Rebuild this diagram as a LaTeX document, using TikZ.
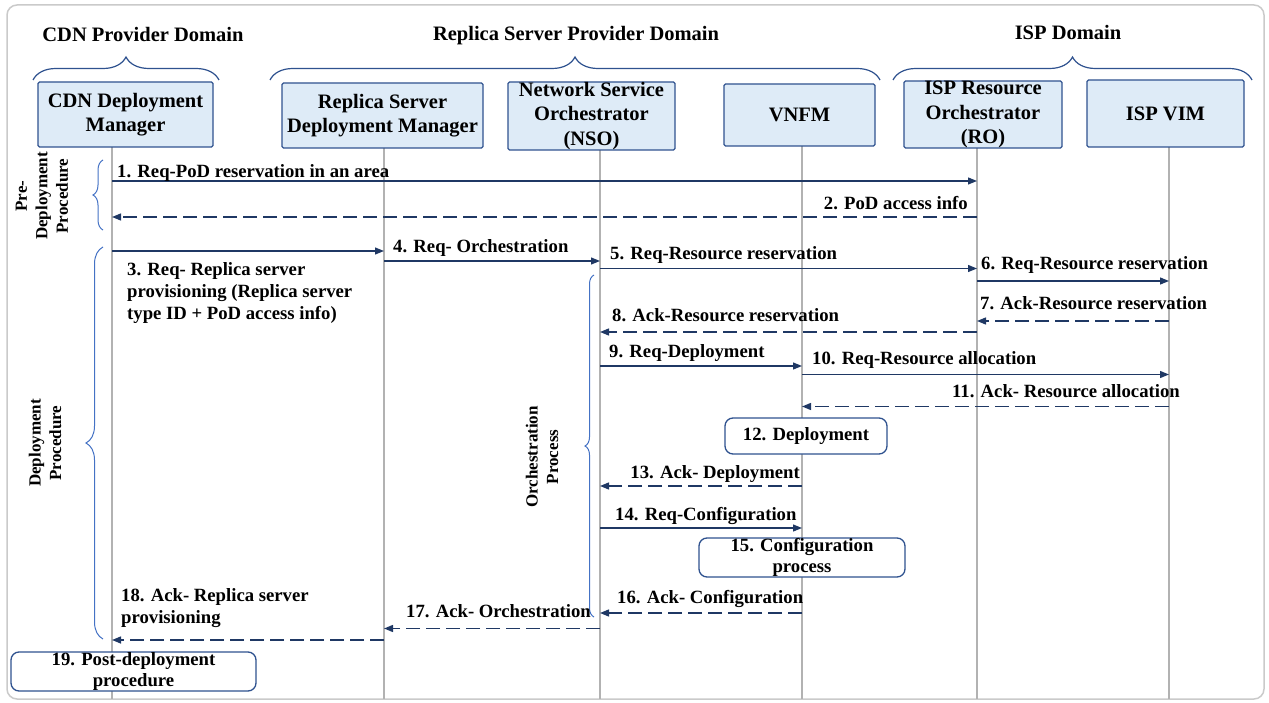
\documentclass[tikz,border=0pt]{standalone}
\usepackage{fontspec}
\setmainfont{Liberation Serif}
\usetikzlibrary{arrows.meta,decorations.pathreplacing}

\definecolor{navy}{HTML}{1F3864}
\definecolor{boxline}{HTML}{2F528F}
\definecolor{boxfill}{HTML}{DEEBF7}
\definecolor{lifegray}{HTML}{B2B2B2}
\definecolor{bracecol}{HTML}{4472C4}
\definecolor{framegray}{HTML}{CACACA}

\begin{document}
\begin{tikzpicture}[x=1pt,y=-1pt,
  header/.style={inner sep=0pt, font=\fontsize{20.5}{24.5}\selectfont\bfseries},
  actor/.style={draw=boxline, fill=boxfill, line width=1.3pt, rounded corners=1.5pt,
    inner sep=0pt, align=center, font=\fontsize{20.5}{24.5}\selectfont\bfseries},
  procbox/.style={draw=boxline, fill=white, line width=1.3pt, rounded corners=8pt,
    inner sep=0pt, align=center, font=\fontsize{18.7}{20.5}\selectfont\bfseries},
  msg/.style={inner sep=0pt, font=\fontsize{18.7}{21.7}\selectfont\bfseries},
  sidelabel/.style={inner sep=0pt, align=center, rotate=90,
    font=\fontsize{17}{20.5}\selectfont\bfseries},
  req/.style={draw=navy, line width=1.2pt, -{Triangle[length=9pt,width=7pt]}},
  ack/.style={req, line width=1.4pt, dash pattern=on 14pt off 6pt},
  life/.style={draw=lifegray, line width=1.6pt},
  topbrace/.style={draw=boxline, line width=1.2pt, decorate,
    decoration={brace, amplitude=23pt}},
  sidebrace/.style={draw=bracecol, line width=1pt, decorate,
    decoration={brace, amplitude=#1}}
]
\useasboundingbox (0,0) rectangle (1269,703);

% outer frame
\draw[framegray, line width=1.5pt, rounded corners=10pt] (7,5) rectangle (1264,699);

% domain headers and their braces
\node[header, anchor=base] (hcdn) at (143,42) {CDN Provider Domain};
\node[header, anchor=base] (hrsp) at (576,41) {Replica Server Provider Domain};
\node[header, anchor=base] (hisp) at (1068,40) {ISP Domain};
\draw[topbrace] (33,80) -- (219,80);
\draw[topbrace] (270,80) -- (880,80);
\draw[topbrace] (893,80) -- (1252,80);

% lifeline anchors
\coordinate (Lcdn) at (112,147);
\coordinate (Lrsdm) at (384,148);
\coordinate (Lnso) at (600,150);
\coordinate (Lvnfm) at (802,146);
\coordinate (Lro) at (977,147);
\coordinate (Lvim) at (1169,147);
\foreach \l in {Lcdn,Lrsdm,Lnso,Lvnfm,Lro,Lvim}
  \draw[life] (\l) -- (\l |- 0,699);

% participants
\node[actor, minimum width=175pt, minimum height=65pt] (cdn) at (125.5,114.5) {CDN Deployment\\Manager};
\node[actor, minimum width=201pt, minimum height=65pt] (rsdm) at (382.5,115.5) {Replica Server\\Deployment Manager};
\node[actor, minimum width=167pt, minimum height=68pt] (nso) at (591.5,116) {Network Service\\Orchestrator\\(NSO)};
\node[actor, minimum width=151pt, minimum height=62pt] (vnfm) at (799.5,115) {VNFM};
\node[actor, minimum width=158pt, minimum height=65pt] (ro) at (983,114.5) {ISP Resource\\Orchestrator\\(RO)};
\node[actor, minimum width=157pt, minimum height=67pt] (vim) at (1165.5,113.5) {ISP VIM};

% phase braces and labels
\draw[sidebrace=10pt] (103,230) -- (103,160);
\draw[sidebrace=17pt] (103,639) -- (103,247);
\draw[sidebrace=9pt] (594,617) -- (594,275);
\node[sidelabel] (lpre) at (42,196) {Pre-\\Deployment\\Procedure};
\node[sidelabel] (ldep) at (45,443) {Deployment\\Procedure};
\node[sidelabel] (lorc) at (542,457) {Orchestration\\Process};

% messages
\draw[req] (Lcdn |- 0,181) -- (Lro |- 0,181);
\node[msg, anchor=base west] (t1) at (117,178) {1. Req-PoD reservation in an area};

\draw[ack] (Lro |- 0,217) -- (Lcdn |- 0,217);
\node[msg, anchor=base east] (t2) at (968,210) {2. PoD access info};

\draw[req] (Lcdn |- 0,251) -- (Lrsdm |- 0,251);
\node[msg, anchor=north west, align=left] (t3) at (127,262.5) {3. Req- Replica server\\provisioning (Replica server\\type ID + PoD access info)};

\draw[req] (Lrsdm |- 0,261) -- (Lnso |- 0,261);
\node[msg, anchor=base west] (t4) at (393,253) {4. Req- Orchestration};

\draw[req] (Lnso |- 0,268.5) -- (Lro |- 0,268.5);
\node[msg, anchor=base west] (t5) at (610,260) {5. Req-Resource reservation};

\draw[req] (Lro |- 0,281) -- (Lvim |- 0,281);
\node[msg, anchor=base west] (t6) at (981,270) {6. Req-Resource reservation};

\draw[ack] (Lvim |- 0,321) -- (Lro |- 0,321);
\node[msg, anchor=base west] (t7) at (980,309) {7. Ack-Resource reservation};

\draw[ack] (Lro |- 0,332) -- (Lnso |- 0,332);
\node[msg, anchor=base west] (t8) at (612,322) {8. Ack-Resource reservation};

\draw[req] (Lnso |- 0,366) -- (Lvnfm |- 0,366);
\node[msg, anchor=base west] (t9) at (609,357) {9. Req-Deployment};

\draw[req] (Lvnfm |- 0,374.5) -- (Lvim |- 0,374.5);
\node[msg, anchor=base west] (t10) at (812,364) {10. Req-Resource allocation};

\draw[ack] (Lvim |- 0,406.5) -- (Lvnfm |- 0,406.5);
\node[msg, anchor=base east] (t11) at (1180,397) {11. Ack- Resource allocation};

\node[procbox, minimum width=162pt, minimum height=36pt] (p12) at (806,436) {12. Deployment};

\draw[ack] (Lvnfm |- 0,486) -- (Lnso |- 0,486);
\node[msg, anchor=base east] (t13) at (800,478) {13. Ack- Deployment};

\draw[req] (Lnso |- 0,528) -- (Lvnfm |- 0,528);
\node[msg, anchor=base west] (t14) at (615,520) {14. Req-Configuration};

\node[procbox, minimum width=206pt, minimum height=39pt] (p15) at (802,557.5) {15. Configuration\\process};

\draw[ack] (Lvnfm |- 0,613) -- (Lnso |- 0,613);
\node[msg, anchor=base west] (t16) at (617,603) {16. Ack- Configuration};

\draw[ack] (Lnso |- 0,628.5) -- (Lrsdm |- 0,628.5);
\node[msg, anchor=base west] (t17) at (406,617) {17. Ack- Orchestration};

\draw[ack] (Lrsdm |- 0,640) -- (Lcdn |- 0,640);
\node[msg, anchor=north west, align=left] (t18) at (121,588.5) {18. Ack- Replica server\\provisioning};

\node[procbox, minimum width=245pt, minimum height=39pt] (p19) at (133.5,671.5) {19. Post-deployment\\procedure};
\end{tikzpicture}
\end{document}
